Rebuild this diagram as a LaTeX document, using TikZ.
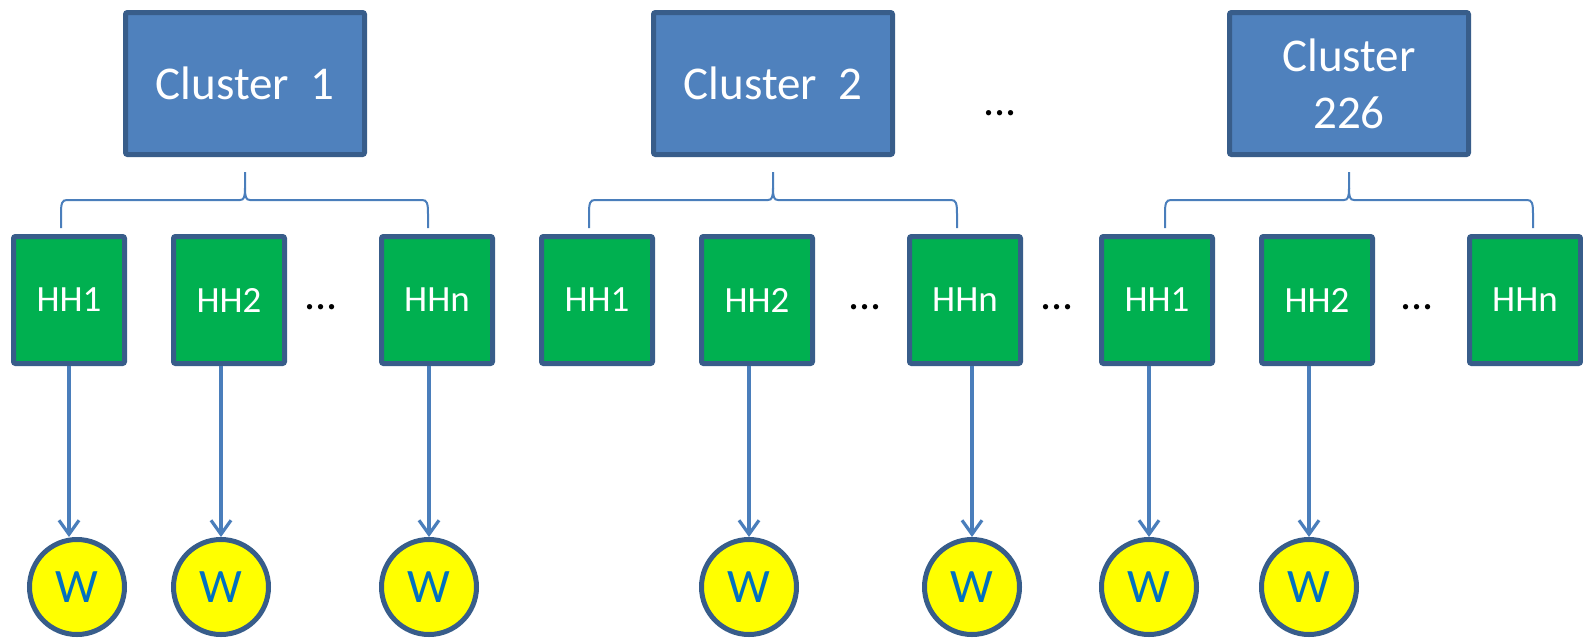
\documentclass[tikz,border=0pt]{standalone}
\usepackage{fontspec}
\setmainfont{Carlito}
\usetikzlibrary{arrows.meta}
\definecolor{clusterfill}{HTML}{4F81BD}
\definecolor{edgeblue}{HTML}{385D8A}
\definecolor{hhfill}{HTML}{00B050}
\definecolor{wfill}{HTML}{FFFF00}
\definecolor{wtext}{HTML}{0070C0}
\definecolor{linkblue}{HTML}{4A7EBB}

\begin{document}
\begin{tikzpicture}[x=1pt,y=-1pt,
  cluster/.style={draw=edgeblue, fill=clusterfill, line width=5pt, rounded corners=2pt,
    minimum width=239pt, minimum height=142pt, inner sep=0pt, text=white,
    font=\fontsize{47}{57}\selectfont, align=center},
  hh/.style={draw=edgeblue, fill=hhfill, line width=5pt, rounded corners=2pt,
    minimum width=111pt, minimum height=127pt, inner sep=0pt, text=white,
    font=\fontsize{37}{44}\selectfont},
  worker/.style={circle, draw=edgeblue, fill=wfill, line width=5pt, minimum size=95pt,
    inner sep=0pt, text=wtext, font=\fontsize{48}{56}\selectfont},
  dots/.style={anchor=base, inner sep=0pt, font=\fontsize{44}{50}\selectfont},
  feed/.style={draw=linkblue, line width=3.2pt, -{Straight Barb[length=14pt,width=20pt]}},
  bracket/.style={draw=linkblue, line width=2pt},
]
\useasboundingbox (0,0) rectangle (1583,638);

% clusters
\node[cluster] (c1) at (245,83.5) {Cluster~~1};
\node[cluster] (c2) at (773,83.5) {Cluster~~2};
\node[cluster] (c3) at (1349,83.5) {Cluster\\226};
\node[dots] (topdots) at (1000,115) {...};

% braces grouping the households under each cluster
\foreach \L/\C/\R in {61/245/428, 589/773/957, 1165/1349/1533} {
  \draw[bracket] (\L,228) -- (\L,214)
    .. controls (\L,203) and ({\L+1},200) .. ({\L+6},200)
    -- ({\C-5},200) .. controls ({\C-1},200) and (\C,197) .. (\C,188)
    -- (\C,172);
  \draw[bracket] (\C,188) .. controls (\C,197) and ({\C+1},200) .. ({\C+5},200)
    -- ({\R-6},200) .. controls ({\R-1},200) and (\R,203) .. (\R,214)
    -- (\R,228);
}

% households
\node[hh] (h11) at (69,300) {HH1};
\node[hh] (h12) at (229,300) {HH2};
\node[hh] (h1n) at (437,300) {HHn};
\node[hh] (h21) at (597,300) {HH1};
\node[hh] (h22) at (757,300) {HH2};
\node[hh] (h2n) at (965,300) {HHn};
\node[hh] (h31) at (1157,300) {HH1};
\node[hh] (h32) at (1317,300) {HH2};
\node[hh] (h3n) at (1525,300) {HHn};

\node[dots] (d1) at (321,309) {...};
\node[dots] (d2) at (865,309) {...};
\node[dots] (d12) at (1057,309) {...};
\node[dots] (d3) at (1417,309) {...};

% workers
\node[worker] (w11) at (77,587) {W};
\node[worker] (w12) at (221,587) {W};
\node[worker] (w1n) at (429,587) {W};
\node[worker] (w22) at (749,587) {W};
\node[worker] (w2n) at (972,587) {W};
\node[worker] (w31) at (1149,587) {W};
\node[worker] (w32) at (1309,587) {W};

% household to worker links
\draw[feed] (h11.south) -- (h11.south |- w11.north);
\draw[feed] (w12.north |- h12.south) -- (w12.north);
\draw[feed] (w1n.north |- h1n.south) -- (w1n.north);
\draw[feed] (w22.north |- h22.south) -- (w22.north);
\draw[feed] (w2n.north |- h2n.south) -- (w2n.north);
\draw[feed] (w31.north |- h31.south) -- (w31.north);
\draw[feed] (w32.north |- h32.south) -- (w32.north);
\end{tikzpicture}
\end{document}
